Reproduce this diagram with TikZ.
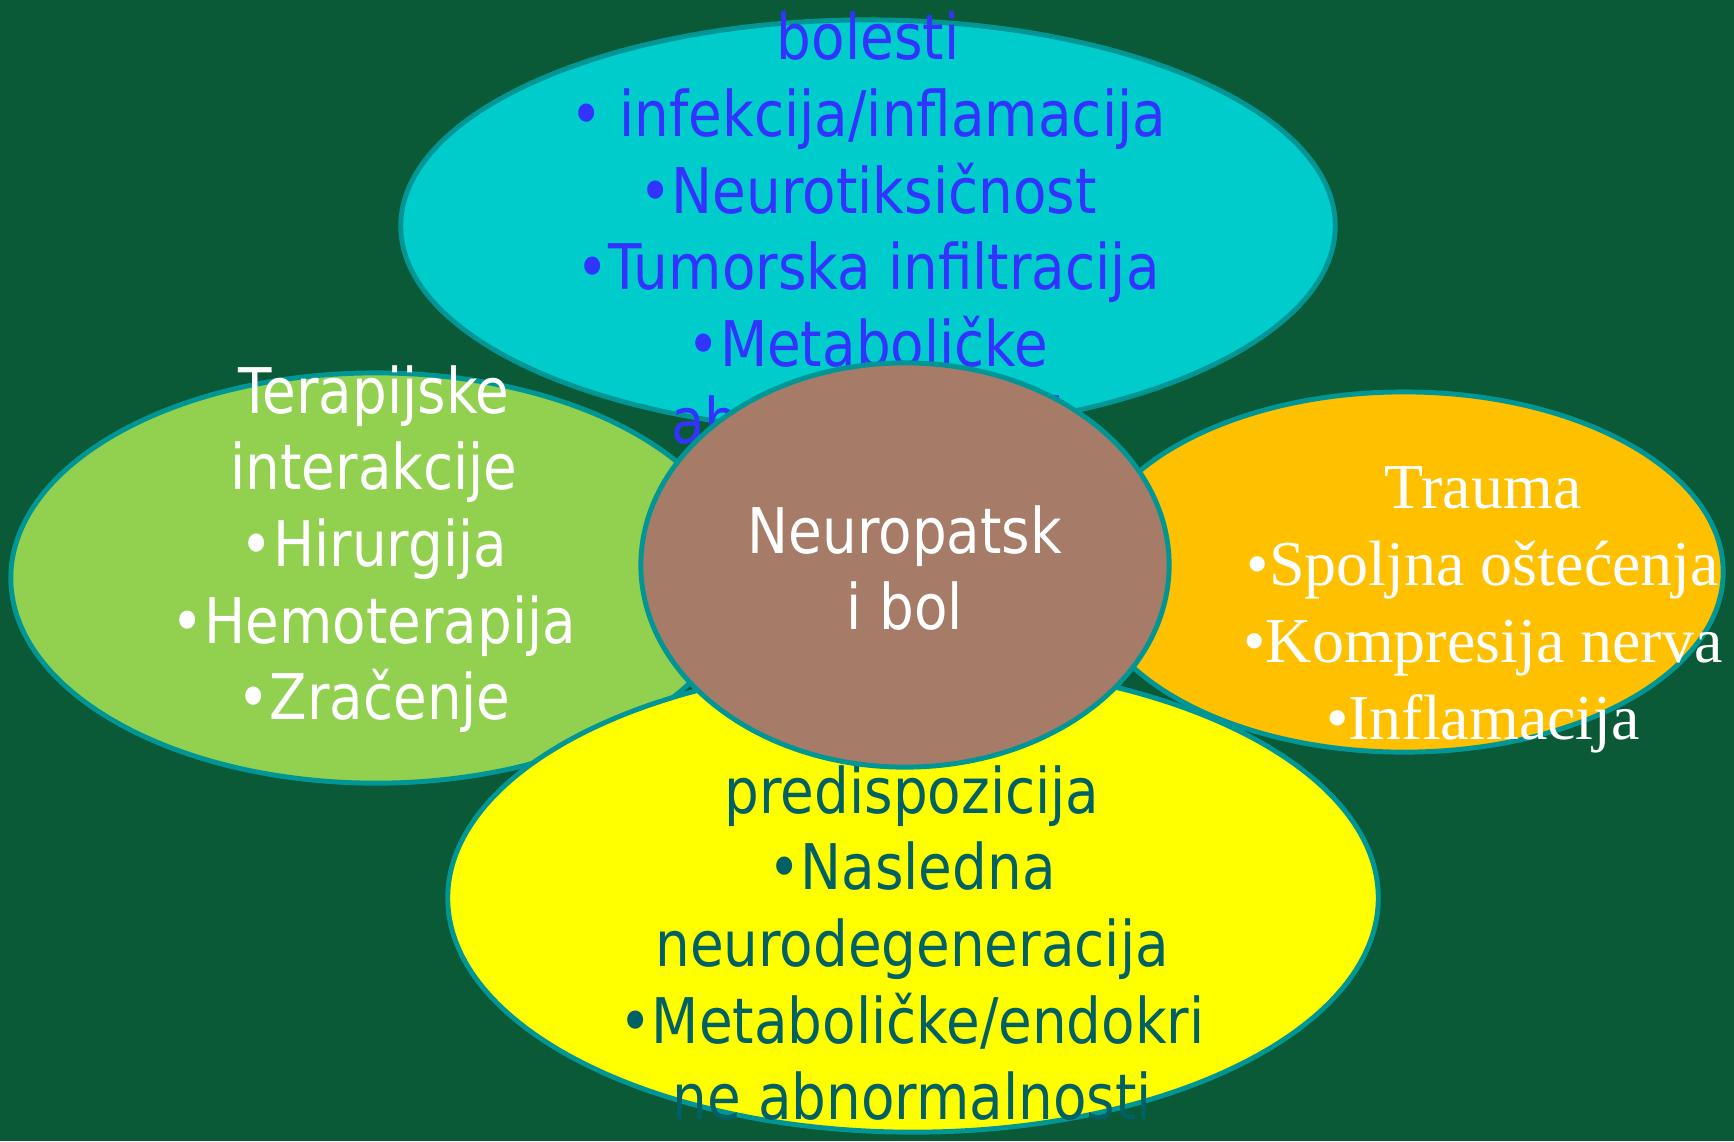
\documentclass[tikz,border=0pt]{standalone}
\usepackage{fontspec}
\usepackage{tikz}
\usetikzlibrary{shapes.geometric}
\newfontfamily\slidesans[FakeStretch=0.87]{DejaVu Sans}
\newfontfamily\slideserif{Liberation Serif}
\definecolor{boardgreen}{RGB}{10,90,55}
\definecolor{petalrim}{RGB}{0,150,150}
\definecolor{cyanpetal}{RGB}{0,204,204}
\definecolor{limepetal}{RGB}{146,208,80}
\definecolor{amberpetal}{RGB}{255,192,0}
\definecolor{lemonpetal}{RGB}{255,255,0}
\definecolor{clayheart}{RGB}{166,123,104}
\definecolor{bluetext}{RGB}{51,51,255}
\definecolor{tealtext}{RGB}{0,96,100}

\begin{document}
\begin{tikzpicture}[
  x=0.01cm, y=-0.01cm,
  petal/.style={ellipse, draw=petalrim, line width=1.4pt, inner sep=0pt},
  sanstext/.style={align=center, inner sep=0pt, font=\slidesans\fontsize{17.9}{21.8}\selectfont},
  seriftext/.style={align=center, inner sep=0pt, font=\slideserif\fontsize{18.2}{21.9}\selectfont},
]

% Board
\fill[boardgreen] (0,0) rectangle (1734,1141);
\useasboundingbox (0,0) rectangle (1734,1141);

% Top petal
\node[petal, fill=cyanpetal, minimum width=9.34cm, minimum height=4.12cm] (sys) at (868,226) {};
\node[sanstext, text=bluetext] (systxt) at (868,228) {bolesti\\
  • infekcija/inflamacija\\
  •Neurotiksičnost\\
  •Tumorska infiltracija\\
  •Metaboličke\\
  abnormalnosti};

% Left petal
\node[petal, fill=limepetal, minimum width=7.30cm, minimum height=4.10cm] (ther) at (376,578) {};
\node[sanstext, text=white] (thertxt) at (374,549) {Terapijske\\
  interakcije\\
  •Hirurgija\\
  •Hemoterapija\\
  •Zračenje};

% Bottom petal
\node[petal, fill=lemonpetal, minimum width=9.30cm, minimum height=4.68cm] (gen) at (913,898) {};
\node[sanstext, text=tealtext] (gentxt) at (912,943) {predispozicija\\
  •Nasledna\\
  neurodegeneracija\\
  •Metaboličke/endokri\\
  ne abnormalnosti};

% Right petal
\node[petal, fill=amberpetal, minimum width=6.38cm, minimum height=3.60cm] (trauma) at (1404,572) {};
\node[seriftext, text=white] (traumatxt) at (1483,610) {Trauma\\
  •Spoljna oštećenja\\
  •Kompresija nerva\\
  •Inflamacija};

% Centre
\node[petal, fill=clayheart, minimum width=5.28cm, minimum height=4.04cm] (pain) at (905,565) {};
\node[sanstext, text=white] (paintxt) at (905,568) {Neuropatsk\\
  i bol};

\end{tikzpicture}
\end{document}
